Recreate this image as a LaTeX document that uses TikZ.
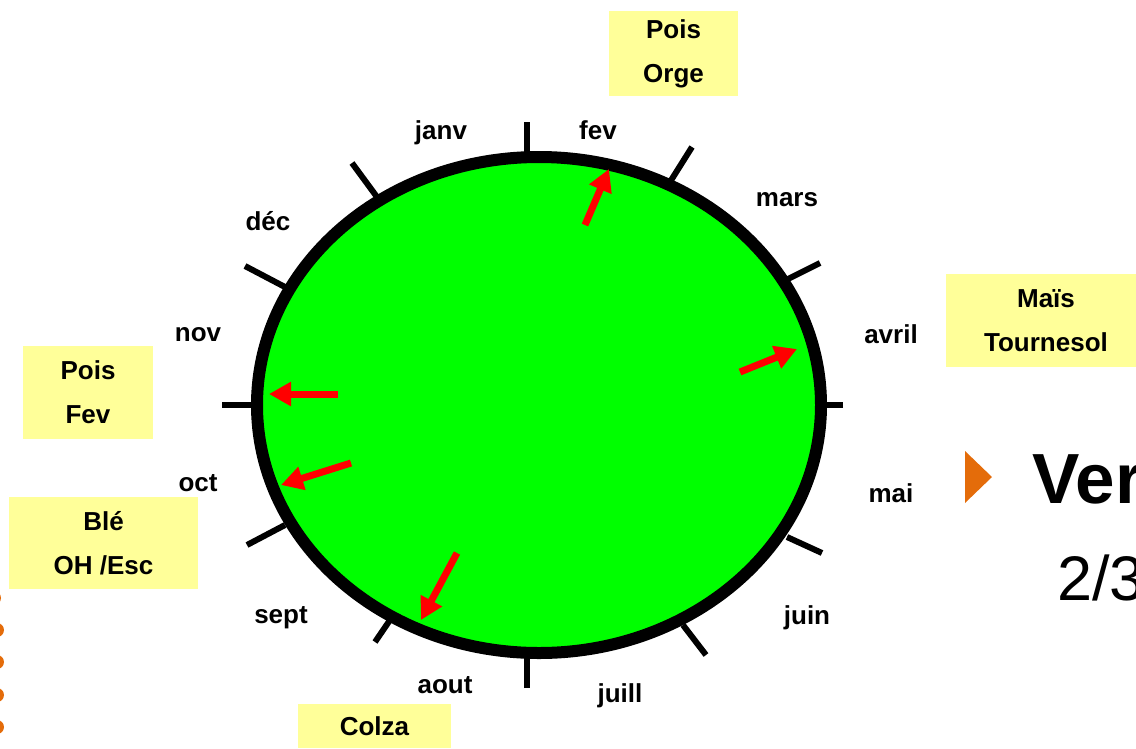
\documentclass[tikz,border=0pt]{standalone}
\usepackage{fontspec}
\setmainfont{Liberation Sans}
\usetikzlibrary{arrows.meta}

\definecolor{cropyellow}{RGB}{255,255,153}
\definecolor{discgreen}{RGB}{0,255,0}
\definecolor{bulletorange}{RGB}{228,108,10}

\begin{document}
\begin{tikzpicture}[x=1pt, y=-1pt,
    month/.style={font=\fontsize{26}{30}\selectfont\bfseries, inner sep=0pt},
    cropbox/.style={fill=cropyellow, font=\fontsize{26}{44}\selectfont\bfseries, align=center, inner sep=0pt},
    monthtick/.style={line width=6pt},
    redarrow/.style={red, line width=7pt, -{Triangle[width=23pt, length=22pt]}}]

    \useasboundingbox (0,0) rectangle (1136,748);
    \clip (0,0) rectangle (1136,748);

    % Month ticks (outer end / inner end)
    \foreach \ox/\oy/\ix/\iy in {527/122/527/160, 692/147/670/182, 820/263/786/280,
        843/405/820/405, 822/553/787/537, 706/655/683/625, 527/688/527/655,
        375/642/390/620, 247/545/285/525, 222/405/258/405, 245/266/285/287,
        352/163/377/197} {
        \draw[monthtick] (\ox,\oy) -- (\ix,\iy);
    }

    % The year disc
    \draw[line width=12pt, fill=discgreen] (539,405) ellipse [x radius=282, y radius=248];

    % Month names
    \node[month] (janv) at (441,133) {janv};
    \node[month] (fev) at (598,130) {fev};
    \node[month] (mars) at (787,200) {mars};
    \node[month] (avril) at (891,334) {avril};
    \node[month] (mai) at (891,493) {mai};
    \node[month] (juin) at (807,618) {juin};
    \node[month] (juill) at (620,696) {juill};
    \node[month] (aout) at (445,685) {aout};
    \node[month] (sept) at (281,618) {sept};
    \node[month] (oct) at (198,483) {oct};
    \node[month] (nov) at (198,335) {nov};
    \node[month] (dec) at (268,221) {déc};

    % Sowing dates
    \foreach \sx/\sy/\tx/\ty in {585/225/609/169, 740/372/797/349, 338/394/269/394,
        351/463/281/485, 457/553/421/620} {
        \draw[redarrow] (\sx,\sy) -- (\tx,\ty);
    }

    % Crops
    \node[cropbox, minimum width=129, minimum height=85] (orge) at (673.5,53.5) {Pois\\Orge};
    \node[cropbox, minimum width=200, minimum height=93] (mais) at (1046,320.5) {Maïs\\Tournesol};
    \node[cropbox, minimum width=130, minimum height=93] (fev2) at (88,392.5) {Pois\\Fev};
    \node[cropbox, minimum width=189, minimum height=92] (ble) at (103.5,543) {Blé\\OH /Esc};
    \node[cropbox, minimum width=153, minimum height=44] (colza) at (374.5,726) {Colza};

    % Right-hand bullet
    \fill[bulletorange] (965,451) -- (992,477) -- (965,503) -- cycle;
    \node[anchor=base west, inner sep=0pt, font=\fontsize{71}{80}\selectfont\bfseries] (ver) at (1032,503) {Ver};
    \node[anchor=base west, inner sep=0pt, font=\fontsize{63}{70}\selectfont] (frac) at (1057,600) {2/3};

    % Left-hand bullets
    \fill[bulletorange] (-6,598) circle (7);
    \foreach \y in {630,662,695,727} {
        \fill[bulletorange] (-3,\y) circle (7);
    }

\end{tikzpicture}
\end{document}
